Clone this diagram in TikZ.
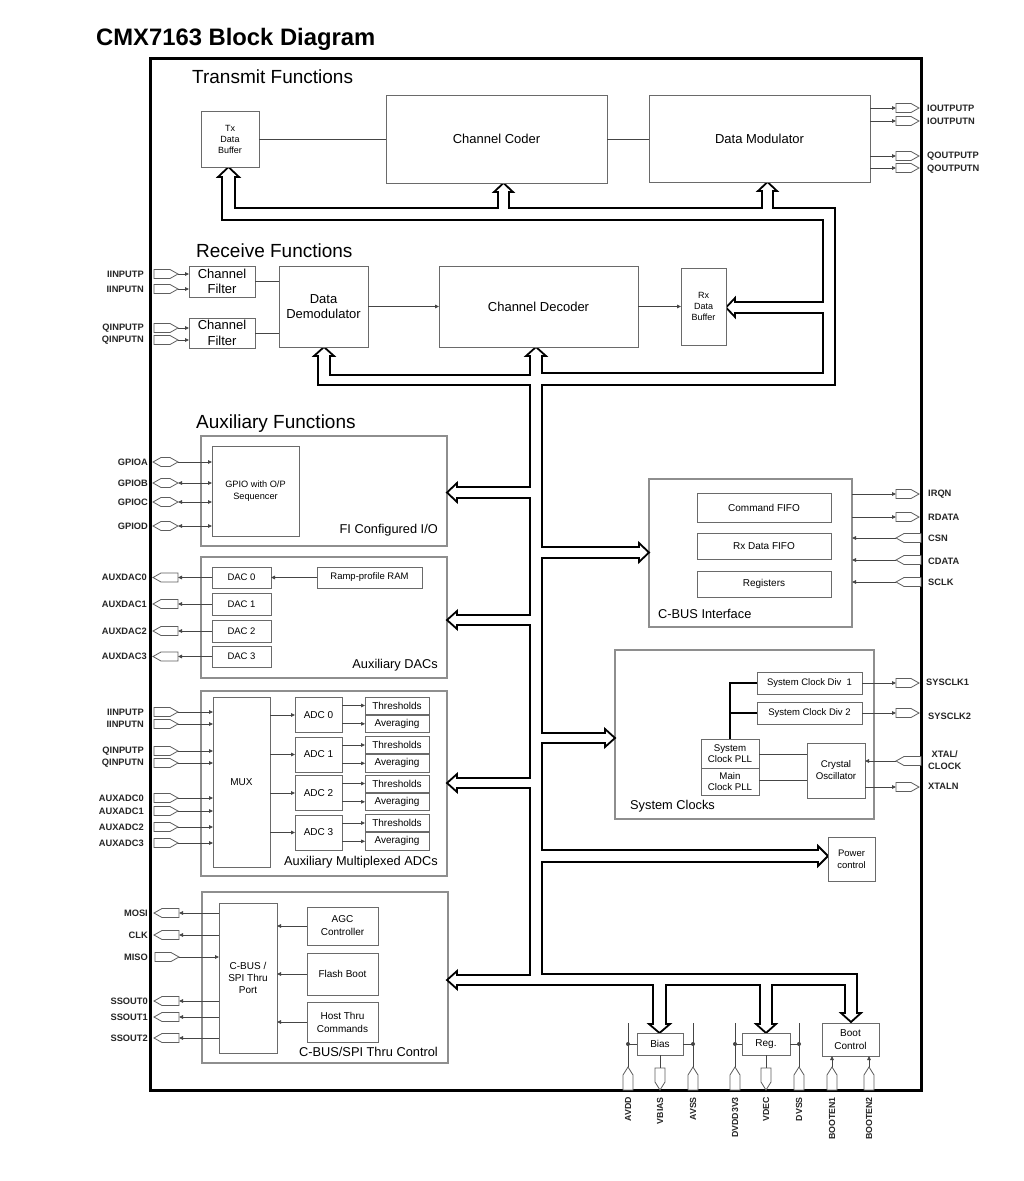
\documentclass[tikz,border=0pt]{standalone}
\usepackage{fontspec}
\setmainfont{Liberation Sans}
\usetikzlibrary{arrows.meta}
\definecolor{secgray}{HTML}{8E8E8E}
\definecolor{blkgray}{HTML}{6A6A6A}
\definecolor{conncol}{HTML}{454545}
\definecolor{pincol}{HTML}{5E5E5E}
\newcommand\fsz[2]{\fontsize{#1}{#2}\selectfont}
\begin{document}
\begin{tikzpicture}[x=1pt,y=-1pt,
  blk/.style={draw=blkgray, line width=0.9pt, fill=white, inner sep=0pt, outer sep=0pt, align=center, text=black},
  sect/.style={draw=secgray, line width=1.1pt, fill=white, inner sep=0pt, outer sep=0pt},
  conn/.style={draw=conncol, line width=0.8pt},
  arr/.style={conn, -{Triangle[length=4pt,width=3.6pt]}},
  arrb/.style={conn, {Triangle[length=4pt,width=3.6pt]}-{Triangle[length=4pt,width=3.6pt]}},
  lbl/.style={inner sep=0pt, font=\bfseries\fsz{9.3}{11}, text=black!85},
  blbl/.style={inner sep=0pt, font=\bfseries\fsz{8.8}{11}, text=black!85, rotate=90, anchor=east},
  slbl/.style={inner sep=0pt, font=\fsz{12.8}{15}},
  ttl/.style={inner sep=0pt, font=\fsz{19}{22}, anchor=base west},
  bus/.style={draw=black, line width=1.8pt, line join=miter},
  pinst/.style={draw=pincol, fill=white, line width=0.8pt},
  pics/pLin/.style={code={\draw[pinst] (-24,-4.5) -- (-8,-4.5) -- (0,0) -- (-8,4.5) -- (-24,4.5) -- cycle;}},
  pics/pLout/.style={code={\draw[pinst] (0,-4.5) -- (-17,-4.5) -- (-25,0) -- (-17,4.5) -- (0,4.5) -- cycle;}},
  pics/pLbi/.style={code={\draw[pinst] (0,0) -- (-8,-4.5) -- (-17,-4.5) -- (-25,0) -- (-17,4.5) -- (-8,4.5) -- cycle;}},
  pics/pRout/.style={code={\draw[pinst] (0,-4.5) -- (15,-4.5) -- (23,0) -- (15,4.5) -- (0,4.5) -- cycle;}},
  pics/pRin/.style={code={\draw[pinst] (0,0) -- (8,-4.5) -- (25,-4.5) -- (25,4.5) -- (8,4.5) -- cycle;}},
  pics/pBin/.style={code={\draw[pinst] (0,0) -- (5,8) -- (5,23) -- (-5,23) -- (-5,8) -- cycle;}},
  pics/pBout/.style={code={\draw[pinst] (-5,0) -- (5,0) -- (5,14) -- (0,22) -- (-5,14) -- cycle;}}
]
\path[use as bounding box, fill=white] (0,0) rectangle (1024,1181);

% title and frame
\node[inner sep=0pt, anchor=base west, font=\bfseries\fsz{23.8}{28}] (title) at (96,45.5) {CMX7163 Block Diagram};
\draw[line width=3pt] (150,58) rectangle (921,1090);

\node[ttl] (t-tx) at (192,83) {Transmit Functions};
\node[ttl] (t-rx) at (196,257) {Receive Functions};
\node[ttl] (t-aux) at (196,428) {Auxiliary Functions};

% section boxes
\node[sect, minimum width=246pt, minimum height=110pt] (fio) at (324,491) {};
\node[slbl, anchor=east] (fio-l) at (438,530) {FI Configured I/O};
\node[sect, minimum width=246pt, minimum height=121pt] (dacs) at (324,617.5) {};
\node[slbl, anchor=east] (dacs-l) at (438,665) {Auxiliary DACs};
\node[sect, minimum width=246pt, minimum height=185pt] (adcs) at (324,783.5) {};
\node[slbl, anchor=east] (adcs-l) at (438,862) {Auxiliary Multiplexed ADCs};
\node[sect, minimum width=246pt, minimum height=171pt] (spi) at (325,977.5) {};
\node[slbl, anchor=east] (spi-l) at (438,1052) {C-BUS/SPI Thru Control};
\node[sect, minimum width=203pt, minimum height=148pt] (cbus) at (750.5,553) {};
\node[slbl, anchor=west] (cbus-l) at (658,614) {C-BUS Interface};
\node[sect, minimum width=259pt, minimum height=169pt] (sclk) at (744.5,734.5) {};
\node[slbl, anchor=west] (sclk-l) at (630,806) {System Clocks};

% the bus
\draw[bus] (235,177) -- (235,208) -- (498,208) -- (498,192) -- (494,192) -- (503.5,183) -- (513,192) -- (509,192) -- (509,208)
 -- (762,208) -- (762,191) -- (758,191) -- (767.5,182) -- (777,191) -- (773,191) -- (773,208)
 -- (835,208) -- (835,385) -- (542,385) -- (542,547)
 -- (639,547) -- (639,543) -- (649,552.5) -- (639,562) -- (639,558) -- (542,558)
 -- (542,733) -- (605,733) -- (605,729) -- (615,738) -- (605,747) -- (605,743) -- (542,743)
 -- (542,850) -- (818,850) -- (818,846) -- (828,856) -- (818,866) -- (818,862) -- (542,862)
 -- (542,974) -- (857,974) -- (857,1013) -- (861,1013) -- (851,1022) -- (841,1013) -- (845,1013) -- (845,985)
 -- (772,985) -- (772,1024) -- (776,1024) -- (766,1033) -- (756,1024) -- (760,1024) -- (760,985)
 -- (666,985) -- (666,1024) -- (670,1024) -- (659.5,1033) -- (649,1024) -- (653,1024) -- (653,985)
 -- (457,985) -- (457,989) -- (447,980) -- (457,971) -- (457,975) -- (530,975)
 -- (530,788) -- (457,788) -- (457,792) -- (447,783) -- (457,774) -- (457,778) -- (530,778)
 -- (530,625) -- (457,625) -- (457,629) -- (447,620) -- (457,611) -- (457,615) -- (530,615)
 -- (530,498) -- (457,498) -- (457,502) -- (447,492.5) -- (457,483) -- (457,487) -- (530,487)
 -- (530,385) -- (318,385) -- (318,356) -- (314,356) -- (324,347) -- (334,356) -- (330,356) -- (330,375)
 -- (530,375) -- (530,356) -- (526,356) -- (536,347) -- (546,356) -- (542,356) -- (542,373)
 -- (823,373) -- (823,313) -- (735,313) -- (735,317) -- (726,307.5) -- (735,298) -- (735,302) -- (823,302)
 -- (823,220) -- (222,220) -- (222,177) -- (218,177) -- (228.5,167) -- (239,177) -- cycle;

% Transmit
\node[blk, minimum width=58pt, minimum height=56pt, font=\fsz{9}{11}] (txbuf) at (230,139) {Tx\\Data\\Buffer};
\node[blk, minimum width=221pt, minimum height=88pt, font=\fsz{13}{16}] (ccod) at (496.5,139) {Channel Coder};
\node[blk, minimum width=221pt, minimum height=87pt, font=\fsz{13}{16}] (dmod) at (759.5,138.5) {Data Modulator};
\draw[conn] (txbuf.east) -- (ccod.west);
\draw[conn] (ccod.east) -- (ccod.east -| dmod.west);

% Receive
\node[blk, minimum width=66pt, minimum height=31pt, font=\fsz{13}{15.5}] (cf1) at (222,281.5) {Channel\\Filter};
\node[blk, minimum width=66pt, minimum height=30pt, font=\fsz{13}{15.5}] (cf2) at (222,333) {Channel\\Filter};
\node[blk, minimum width=89pt, minimum height=81pt, font=\fsz{13}{15}] (ddem) at (323.5,306.5) {Data\\Demodulator};
\node[blk, minimum width=199pt, minimum height=81pt, font=\fsz{13}{16}] (cdec) at (538.5,306.5) {Channel Decoder};
\node[blk, minimum width=45pt, minimum height=77pt, font=\fsz{9}{11}] (rxbuf) at (703.5,306.5) {Rx\\Data\\Buffer};
\draw[conn] (cf1.east) -- (cf1.east -| ddem.west);
\draw[conn] (cf2.east) -- (cf2.east -| ddem.west);
\draw[arr] (ddem.east) -- (cdec.west);
\draw[arr] (cdec.east) -- (rxbuf.west);

% FI configured I/O
\node[blk, minimum width=87pt, minimum height=90pt, font=\fsz{9.2}{11.5}] (gpio) at (255.5,491) {GPIO with O/P\\Sequencer};

% DACs
\node[blk, minimum width=59pt, minimum height=21pt, font=\fsz{9.5}{11}] (dac0) at (241.5,577.5) {DAC 0};
\node[blk, minimum width=59pt, minimum height=22pt, font=\fsz{9.5}{11}] (dac1) at (241.5,604) {DAC 1};
\node[blk, minimum width=59pt, minimum height=22pt, font=\fsz{9.5}{11}] (dac2) at (241.5,631) {DAC 2};
\node[blk, minimum width=59pt, minimum height=21pt, font=\fsz{9.5}{11}] (dac3) at (241.5,656.5) {DAC 3};
\node[blk, minimum width=105pt, minimum height=21pt, font=\fsz{9.5}{11}] (ramp) at (369.5,577.5) {Ramp-profile RAM};
\draw[arr] (ramp.west) -- (dac0.east);

% ADCs
\node[blk, minimum width=57pt, minimum height=170pt, font=\fsz{10}{12}] (mux) at (241.5,782) {MUX};
\foreach \i/\y in {0/715,1/754.5,2/793,3/832.5}{
  \node[blk, minimum width=47pt, minimum height=35pt, font=\fsz{10}{12}] (adc\i) at (318.5,\y) {ADC \i};
  \node[blk, minimum width=64pt, minimum height=17pt, font=\fsz{10}{12}] (thr\i) at (397,\y-9.5) {Thresholds};
  \node[blk, minimum width=64pt, minimum height=17.5pt, font=\fsz{10}{12}] (avg\i) at (397,\y+8.8) {Averaging};
  \draw[arr] (mux.east |- adc\i.west) -- (adc\i.west);
  \draw[arr] (adc\i.east |- thr\i.west) -- (thr\i.west);
  \draw[arr] (adc\i.east |- avg\i.west) -- (avg\i.west);
}

% C-BUS/SPI thru
\node[blk, minimum width=58pt, minimum height=150pt, font=\fsz{10}{12}] (port) at (248,978) {C-BUS /\\SPI Thru\\Port};
\node[blk, minimum width=71pt, minimum height=38pt, font=\fsz{10}{13}] (agc) at (342.5,926) {AGC\\Controller};
\node[blk, minimum width=71pt, minimum height=42pt, font=\fsz{10}{13}] (flash) at (342.5,974) {Flash Boot};
\node[blk, minimum width=71pt, minimum height=40pt, font=\fsz{10}{13}] (host) at (342.5,1022) {Host Thru\\Commands};
\draw[arr] (agc.west) -- (agc.west -| port.east);
\draw[arr] (flash.west) -- (flash.west -| port.east);
\draw[arr] (host.west) -- (host.west -| port.east);

% C-BUS interface
\node[blk, minimum width=134pt, minimum height=29pt, font=\fsz{10}{12}] (cmdf) at (764,507.5) {Command FIFO};
\node[blk, minimum width=134pt, minimum height=26pt, font=\fsz{10}{12}] (rxf) at (764,546) {Rx Data FIFO};
\node[blk, minimum width=134pt, minimum height=26pt, font=\fsz{10}{12}] (regs) at (764,584) {Registers};

% System clocks
\node[blk, minimum width=105pt, minimum height=22pt, font=\fsz{9.5}{11}] (div1) at (809.5,683) {System Clock Div~ 1};
\node[blk, minimum width=105pt, minimum height=22pt, font=\fsz{9.5}{11}] (div2) at (809.5,713) {System Clock Div 2};
\node[blk, minimum width=58pt, minimum height=29pt, font=\fsz{9.7}{11.5}] (spll) at (730,753.5) {System\\Clock PLL};
\node[blk, minimum width=58pt, minimum height=27pt, font=\fsz{9.7}{11.5}] (mpll) at (730,781.5) {Main\\Clock PLL};
\node[blk, minimum width=58pt, minimum height=55pt, font=\fsz{9.7}{12}] (xtal) at (836,770.5) {Crystal\\Oscillator};
\draw[line width=1.5pt] (spll.north) -- (spll.north |- div1.west) -- (div1.west);
\draw[line width=1.5pt] (spll.north |- div2.west) -- (div2.west);
\draw[conn] (spll.east |- 0,754) -- (xtal.west |- 0,754);
\draw[conn] (mpll.east |- 0,780) -- (xtal.west |- 0,780);

% power, bias, reg, boot
\node[blk, minimum width=47pt, minimum height=44pt, font=\fsz{9.5}{12}] (pwr) at (851.5,859) {Power\\control};
\node[blk, minimum width=46pt, minimum height=22pt, font=\fsz{10}{12}] (bias) at (660,1044) {Bias};
\node[blk, minimum width=48pt, minimum height=22pt, font=\fsz{10}{12}] (regb) at (766,1044) {Reg.};
\node[blk, minimum width=57pt, minimum height=33pt, font=\fsz{10}{12.5}] (boot) at (850.5,1039.5) {Boot\\Control};

% ---- left pins ----
\foreach \n/\y/\t/\b in {ra/274/IINPUTP/cf1, rb/289/IINPUTN/cf1, rc/328/QINPUTP/cf2, rd/340/QINPUTN/cf2}{
  \coordinate (\n) at (178,\y);
  \pic at (\n) {pLin};
  \node[lbl, anchor=east] (\n-l) at (144,\y) {\t};
  \draw[arr] (\n) -- (\b.west |- \n);
}
\foreach \n/\y/\t/\s in {ga/462/GPIOA/arr, gb/483/GPIOB/arrb, gc/502/GPIOC/arrb, gd/526/GPIOD/arrb}{
  \coordinate (\n) at (178,\y);
  \pic at (\n) {pLbi};
  \node[lbl, anchor=east] (\n-l) at (148,\y) {\t};
  \draw[\s] (\n) -- (gpio.west |- \n);
}
\foreach \i in {0,1,2,3}{
  \coordinate (da\i) at (178,0 |- dac\i.west);
  \pic at (da\i) {pLout};
  \node[lbl, anchor=east] (da\i-l) at (147,0 |- dac\i.west) {AUXDAC\i};
  \draw[arr] (dac\i.west) -- (da\i);
}
\foreach \n/\y/\t in {aa/712/IINPUTP, ab/724/IINPUTN, ac/751/QINPUTP, ad/763/QINPUTN, ae/798/AUXADC0, af/811/AUXADC1, ag/827/AUXADC2, ah/843/AUXADC3}{
  \coordinate (\n) at (178,\y);
  \pic at (\n) {pLin};
  \node[lbl, anchor=east] (\n-l) at (144,\y) {\t};
  \draw[arr] (\n) -- (mux.west |- \n);
}
\foreach \n/\y/\t in {sa/913/MOSI, sb/935/CLK, sd/1001/SSOUT0, se/1017/SSOUT1, sf/1038/SSOUT2}{
  \coordinate (\n) at (179,\y);
  \pic at (\n) {pLout};
  \node[lbl, anchor=east] (\n-l) at (148,\y) {\t};
  \draw[arr] (port.west |- \n) -- (\n);
}
\coordinate (sc) at (179,957);
\pic at (sc) {pLin};
\node[lbl, anchor=east] (sc-l) at (148,957) {MISO};
\draw[arr] (sc) -- (port.west |- sc);

% ---- right pins ----
\foreach \n/\y/\t/\b in {io1/108/IOUTPUTP/dmod, io2/121/IOUTPUTN/dmod, io3/156/QOUTPUTP/dmod, io4/168/QOUTPUTN/dmod, ca/494/IRQN/cbus, cb/517/RDATA/cbus, k1/683/SYSCLK1/div1, k2/713/SYSCLK2/div2, xn/787/XTALN/xtal}{
  \coordinate (\n) at (896,\y);
  \pic at (\n) {pRout};
  \draw[arr] (\b.east |- \n) -- (\n);
}
\foreach \n/\y/\b in {cc/538/cbus, cd/560/cbus, ce/582/cbus, xc/761/xtal}{
  \coordinate (\n) at (896,\y);
  \pic at (\n) {pRin};
  \draw[arr] (\n) -- (\b.east |- \n);
}
\node[lbl, anchor=west] (io1-l) at (927,108) {IOUTPUTP};
\node[lbl, anchor=west] (io2-l) at (927,121) {IOUTPUTN};
\node[lbl, anchor=west] (io3-l) at (927,156) {QOUTPUTP};
\node[lbl, anchor=west] (io4-l) at (927,169) {QOUTPUTN};
\node[lbl, anchor=west] (ca-l) at (928,494) {IRQN};
\node[lbl, anchor=west] (cb-l) at (928,517) {RDATA};
\node[lbl, anchor=west] (cc-l) at (928,538) {CSN};
\node[lbl, anchor=west] (cd-l) at (928,561) {CDATA};
\node[lbl, anchor=west] (ce-l) at (928,582) {SCLK};
\node[lbl, anchor=west] (k1-l) at (926,682) {SYSCLK1};
\node[lbl, anchor=west] (k2-l) at (928,716) {SYSCLK2};
\node[lbl, anchor=west, align=center, font=\bfseries\fsz{9.3}{12}] (xc-l) at (928,760) {XTAL/\\CLOCK};
\node[lbl, anchor=west] (xn-l) at (928,786) {XTALN};

% ---- bottom pins ----
\foreach \n/\x in {b1/628, b3/693, b4/735, b6/799}{
  \coordinate (\n) at (\x,1067);
  \coordinate (\n-t) at (\x,1023);
  \pic at (\n) {pBin};
  \draw[conn] (\n) -- (\n-t);
}
\draw[conn] (bias.west) -- (bias.west -| b1);
\draw[conn] (bias.east) -- (bias.east -| b3);
\draw[conn] (regb.west) -- (regb.west -| b4);
\draw[conn] (regb.east) -- (regb.east -| b6);
\fill[conncol] (bias.west -| b1) circle[radius=2pt];
\fill[conncol] (bias.east -| b3) circle[radius=2pt];
\fill[conncol] (regb.west -| b4) circle[radius=2pt];
\fill[conncol] (regb.east -| b6) circle[radius=2pt];
\coordinate (b2) at (660,1068);
\pic at (b2) {pBout};
\draw[conn] (bias.south) -- (b2);
\coordinate (b5) at (766,1068);
\pic at (b5) {pBout};
\draw[conn] (regb.south) -- (b5);
\foreach \n/\x in {b7/832, b8/869}{
  \coordinate (\n) at (\x,1067);
  \pic at (\n) {pBin};
  \draw[arr] (\n) -- (boot.south -| \n);
}
\node[blbl] (b1-l) at (628,1097) {AVDD};
\node[blbl] (b2-l) at (660,1097) {VBIAS};
\node[blbl] (b3-l) at (693,1097) {AVSS};
\node[blbl] (b4-l) at (735,1097) {DVDD3V3};
\node[blbl] (b5-l) at (766,1097) {VDEC};
\node[blbl] (b6-l) at (799,1097) {DVSS};
\node[blbl] (b7-l) at (832,1097) {BOOTEN1};
\node[blbl] (b8-l) at (869,1097) {BOOTEN2};
\end{tikzpicture}
\end{document}
